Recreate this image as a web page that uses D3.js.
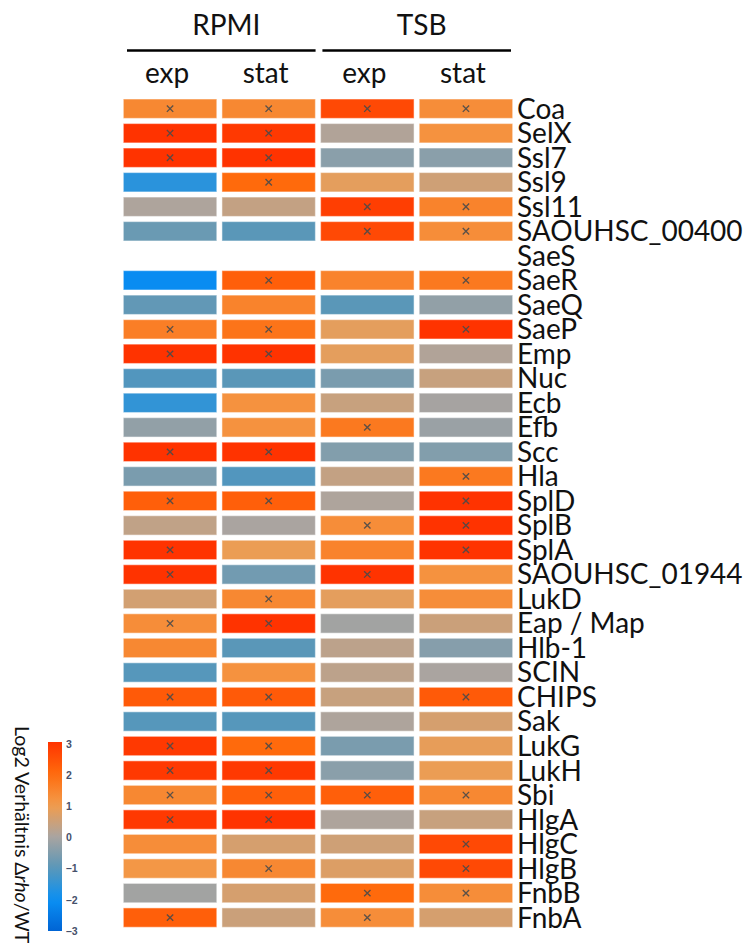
<!DOCTYPE html>
<html>
<head>
<meta charset="utf-8">
<script src="https://cdn.jsdelivr.net/npm/d3@7"></script>
<style>
  html, body { margin: 0; padding: 0; background: #fff; }
  svg { display: block; }
  text { font-family: Lato, "Open Sans", sans-serif; fill: #111; }
</style>
</head>
<body>
<svg id="chart" width="748" height="943"></svg>
<script>
// Proteins (rows), top to bottom
const proteins = ["Coa", "SelX", "Ssl7", "Ssl9", "Ssl11", "SAOUHSC_00400", "SaeS", "SaeR", "SaeQ", "SaeP",
  "Emp", "Nuc", "Ecb", "Efb", "Scc", "Hla", "SplD", "SplB", "SplA", "SAOUHSC_01944",
  "LukD", "Eap / Map", "Hlb-1", "SCIN", "CHIPS", "Sak", "LukG", "LukH", "Sbi", "HlgA",
  "HlgC", "HlgB", "FnbB", "FnbA"];

// Medium / growth phase columns
const media = ["RPMI", "TSB"];
const phases = ["exp", "stat"];
const conditions = ["RPMI exp", "RPMI stat", "TSB exp", "TSB stat"];

// log2 ratio Δrho/WT per condition (null = not detected)
const rpmiExp = [1.4, 3.0, 3.0, -1.6, 0.05, -0.8, null, -2.1, -0.9, 1.6,
  3.0, -1.1, -1.5, -0.3, 3.0, -0.6, 2.2, 0.3, 3.0, 3.0,
  0.55, 1.3, 1.4, -1.05, 2.3, -1.05, 2.9, 2.9, 1.4, 2.9,
  1.3, 1.1, -0.1, 2.2];
const rpmiStat = [1.4, 2.9, 3.0, 2.0, 0.35, -1.0, null, 2.2, 1.5, 1.8,
  3.0, -1.0, 1.2, 1.2, 3.0, -1.1, 2.2, 0.0, 0.9, -0.7,
  1.4, 3.0, -1.0, 1.2, 2.3, -1.05, 2.0, 2.9, 2.2, 3.0,
  0.6, 1.4, 0.6, 0.45];
const tsbExp = [2.6, 0.1, -0.4, 0.8, 2.8, 2.6, null, 1.5, -1.0, 0.8,
  0.8, -0.6, 0.4, 1.7, -0.5, 0.35, 0.05, 1.3, 1.5, 3.0,
  0.8, -0.1, 0.25, 0.25, 0.4, 0.05, -0.6, -0.4, 2.2, 0.05,
  0.5, 0.7, 2.0, 1.3];
const tsbStat = [1.3, 1.2, -0.4, 0.5, 1.5, 1.3, null, 1.7, -0.3, 3.0,
  0.1, 0.4, -0.05, -0.2, -0.5, 1.7, 3.0, 3.0, 3.0, 1.2,
  1.3, 0.45, -0.45, 0.0, 2.3, 0.6, 0.85, 0.9, 1.4, 0.4,
  2.6, 2.6, 1.3, 0.6];

// significance flags (drawn as ×)
const rpmiExpSig = [1,1,1,0,0,0,0,0,0,1, 1,0,0,0,1,0,1,0,1,1, 0,1,0,0,1,0,1,1,1,1, 0,0,0,1];
const rpmiStatSig = [1,1,1,1,0,0,0,1,0,1, 1,0,0,0,1,0,1,0,0,0, 1,1,0,0,1,0,1,1,1,1, 0,1,0,0];
const tsbExpSig = [1,0,0,0,1,1,0,0,0,0, 0,0,0,1,0,0,0,1,0,1, 0,0,0,0,0,0,0,0,1,0, 0,0,1,1];
const tsbStatSig = [1,0,0,0,1,1,0,1,0,1, 0,0,0,0,0,1,1,1,1,0, 0,0,0,0,1,0,0,0,1,0, 1,1,1,0];

// colour legend
const legendTicks = [3, 2, 1, 0, -1, -2, -3];
const colorStops = [-3, -2, -1, 0, 1, 2, 3];
const colorRange = ["#0064d4", "#0a90f4", "#5a97b8", "#aaa4a0", "#f29c4c", "#ff6a0c", "#ff3300"];

const valueSets = [rpmiExp, rpmiStat, tsbExp, tsbStat];
const sigSets = [rpmiExpSig, rpmiStatSig, tsbExpSig, tsbStatSig];

const cells = [];
proteins.forEach((p, i) => {
  conditions.forEach((c, j) => {
    cells.push({ protein: p, condition: c, value: valueSets[j][i], sig: sigSets[j][i] });
  });
});

const svg = d3.select("#chart");

const x = d3.scaleBand().domain(conditions).range([123.3, 512.7]).paddingInner(0.052).paddingOuter(0);
const y = d3.scaleBand().domain(proteins).range([99, 927.3]).paddingInner(0.208).paddingOuter(0);
const color = d3.scaleLinear().domain(colorStops).range(colorRange).interpolate(d3.interpolateRgb).clamp(true);

// heatmap cells
const g = svg.append("g");
g.selectAll("rect.cell")
  .data(cells.filter(d => d.value !== null))
  .join("rect")
  .attr("class", "cell")
  .attr("x", d => x(d.condition))
  .attr("y", d => y(d.protein))
  .attr("width", x.bandwidth())
  .attr("height", y.bandwidth())
  .attr("fill", d => color(d.value))
  .attr("stroke", "#ffffff")
  .attr("stroke-opacity", 0.45)
  .attr("stroke-width", 1.2);

// significance markers
g.selectAll("path.sig")
  .data(cells.filter(d => d.value !== null && d.sig))
  .join("path")
  .attr("class", "sig")
  .attr("d", d3.symbol(d3.symbolX, 28))
  .attr("transform", d => `translate(${x(d.condition) + x.bandwidth() / 2},${y(d.protein) + y.bandwidth() / 2})`)
  .attr("stroke", "#4a4a4a")
  .attr("stroke-opacity", 0.9)
  .attr("stroke-width", 1.35)
  .attr("fill", "none");

// row labels
svg.append("g").selectAll("text")
  .data(proteins)
  .join("text")
  .attr("x", 517)
  .attr("y", d => y(d) + y.bandwidth() / 2 + 10)
  .attr("font-size", 28)
  .text(d => d);

// medium headers with rules
const mediumX = d3.scaleBand().domain(media).range([127, 511]).paddingInner(0.035);
const hdr = svg.append("g");
hdr.selectAll("text.medium")
  .data(media)
  .join("text")
  .attr("class", "medium")
  .attr("x", d => mediumX(d) + mediumX.bandwidth() / 2 + 5)
  .attr("y", 35)
  .attr("text-anchor", "middle")
  .attr("font-size", 28)
  .text(d => d);
hdr.selectAll("line.rule")
  .data(media)
  .join("line")
  .attr("class", "rule")
  .attr("x1", d => mediumX(d))
  .attr("x2", d => mediumX(d) + mediumX.bandwidth())
  .attr("y1", 50.5)
  .attr("y2", 50.5)
  .attr("stroke", "#000")
  .attr("stroke-width", 2.5);
hdr.selectAll("text.phase")
  .data(conditions)
  .join("text")
  .attr("class", "phase")
  .attr("x", d => x(d) + x.bandwidth() / 2 - 3)
  .attr("y", 83)
  .attr("text-anchor", "middle")
  .attr("font-size", 28)
  .text((d, i) => phases[i % 2]);

// colour legend
const ly = d3.scaleLinear().domain([3, -3]).range([743, 930]);
const defs = svg.append("defs");
const grad = defs.append("linearGradient")
  .attr("id", "legendGrad")
  .attr("x1", 0).attr("y1", 0).attr("x2", 0).attr("y2", 1);
grad.selectAll("stop")
  .data(d3.range(0, 1.0001, 0.05))
  .join("stop")
  .attr("offset", t => t)
  .attr("stop-color", t => color(3 - 6 * t));

const leg = svg.append("g");
leg.append("rect")
  .attr("x", 48)
  .attr("y", ly(3) - 1)
  .attr("width", 14)
  .attr("height", ly(-3) - ly(3) + 2)
  .attr("fill", "url(#legendGrad)");

leg.selectAll("text.tick")
  .data(legendTicks)
  .join("text")
  .attr("class", "tick")
  .attr("x", 66)
  .attr("y", d => ly(d) + 2)
  .attr("dominant-baseline", "middle")
  .style("font-family", "'Liberation Sans', Arial, sans-serif")
  .style("font-weight", "bold")
  .style("font-size", "10.5px")
  .style("fill", "#46506a")
  .text(d => d < 0 ? "\u2013" + Math.abs(d) : String(d));

const title = leg.append("text")
  .attr("transform", "translate(15,726) rotate(90)")
  .attr("font-size", 19.5);
title.append("tspan").text("Log2 Verhältnis \u0394");
title.append("tspan").attr("font-style", "italic").text("rho");
title.append("tspan").text("/WT");
</script>
</body>
</html>
